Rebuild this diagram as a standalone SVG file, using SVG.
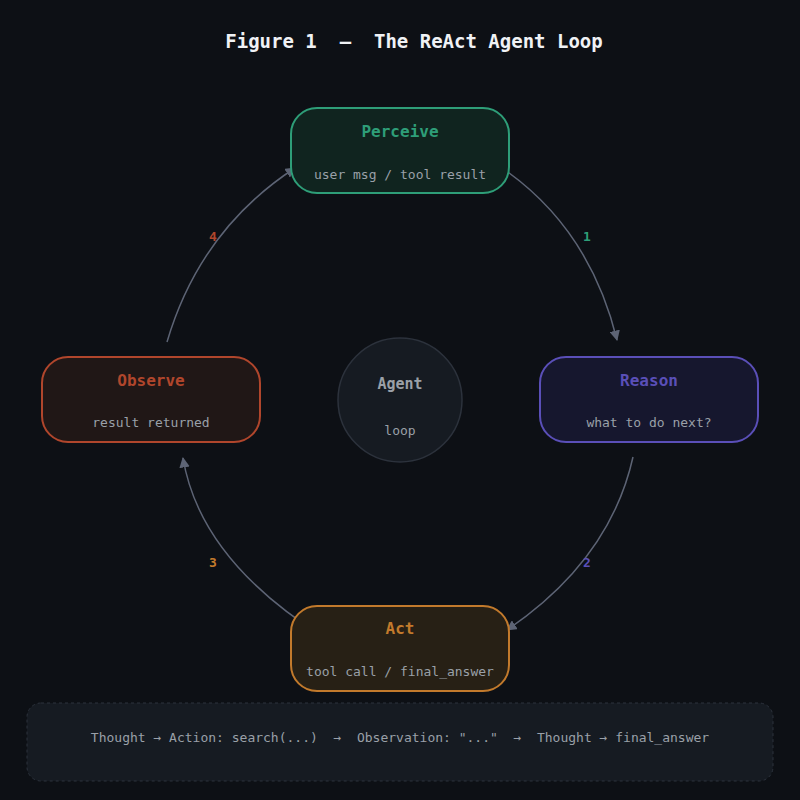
<svg xmlns="http://www.w3.org/2000/svg" width="800" height="800" viewBox="0 0 800 800">
<defs>
<marker id="ah" viewBox="0 0 10 10" refX="9" refY="5" markerWidth="7" markerHeight="7" orient="auto"><path d="M0,0 L10,5 L0,10 z" fill="#5d6475"/></marker>
<style>
text{font-family:"DejaVu Sans Mono","Liberation Mono",monospace;text-anchor:middle}
.t{font-size:16px;font-weight:bold}
.s{font-size:13px;fill:#9aa0a8}
.c{fill:none;stroke:#5d6475;stroke-width:1.5;marker-end:url(#ah)}
.n{font-size:13px;font-weight:bold}
</style>
</defs>
<rect width="800" height="800" fill="#0d1015"/>
<text x="414" y="48" font-size="19" font-weight="bold" fill="#f0f2f5" xml:space="preserve">Figure 1  —  The ReAct Agent Loop</text>
<g id="connectors">
<path class="c" d="M505,170 Q590,230 617,340"/>
<path class="c" d="M633,457 Q610,560 507,630"/>
<path class="c" d="M325,638 Q200,560 183,458"/>
<path class="c" d="M167,342 Q200,230 295,168"/>
<text class="n" x="587" y="241" fill="#2e9e78">1</text>
<text class="n" x="587" y="567" fill="#5a4fb8">2</text>
<text class="n" x="213" y="567" fill="#c27a2c">3</text>
<text class="n" x="213" y="241" fill="#b0462c">4</text>
</g>
<g id="agent">
<circle cx="400" cy="400" r="62" fill="#161b22" stroke="#2c323c" stroke-width="1.5"/>
<text x="400" y="389" font-size="15" font-weight="bold" fill="#9aa0a8">Agent</text>
<text class="s" x="400" y="435">loop</text>
</g>
<g id="perceive">
<rect x="291" y="108" width="218" height="85" rx="26" fill="#10241f" stroke="#2e9e78" stroke-width="2"/>
<text class="t" x="400" y="137" fill="#2e9e78">Perceive</text>
<text class="s" x="400" y="179">user msg / tool result</text>
</g>
<g id="reason">
<rect x="540" y="357" width="218" height="85" rx="26" fill="#16172e" stroke="#5a4fb8" stroke-width="2"/>
<text class="t" x="649" y="386" fill="#5a4fb8">Reason</text>
<text class="s" x="649" y="427">what to do next?</text>
</g>
<g id="act">
<rect x="291" y="606" width="218" height="85" rx="26" fill="#272015" stroke="#c27a2c" stroke-width="2"/>
<text class="t" x="400" y="634" fill="#c27a2c">Act</text>
<text class="s" x="400" y="676">tool call / final_answer</text>
</g>
<g id="observe">
<rect x="42" y="357" width="218" height="85" rx="26" fill="#201716" stroke="#b0462c" stroke-width="2"/>
<text class="t" x="151" y="386" fill="#b0462c">Observe</text>
<text class="s" x="151" y="427">result returned</text>
</g>
<g id="trace">
<rect x="27" y="703" width="746" height="78" rx="14" fill="#161b22" stroke="#2c323c" stroke-dasharray="3,3"/>
<text class="s" x="400" y="742" xml:space="preserve">Thought → Action: search(...)  →  Observation: "..."  →  Thought → final_answer</text>
</g>
</svg>
